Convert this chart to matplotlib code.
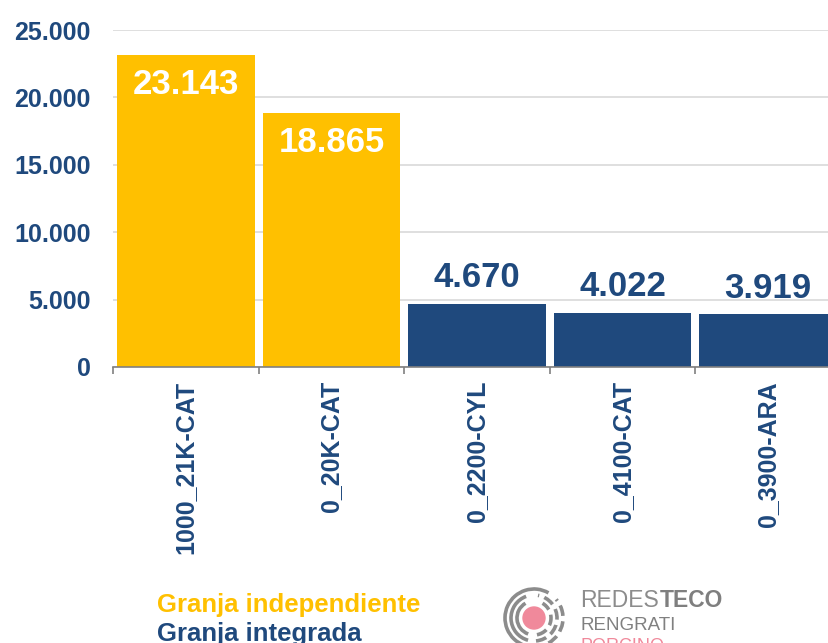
import numpy as np
import matplotlib.pyplot as plt
from matplotlib.patches import Circle, Arc
from matplotlib.ticker import FuncFormatter, FixedLocator

plt.rcParams['font.family'] = ['Liberation Sans', 'DejaVu Sans']

# data
farms = ['1000_21K-CAT', '0_20K-CAT', '0_2200-CYL', '0_4100-CAT', '0_3900-ARA']
values = [23143, 18865, 4670, 4022, 3919]
farm_type = ['ind', 'ind', 'int', 'int', 'int']
legend_labels = ['Granja independiente', 'Granja integrada']

yellow = '#FFC000'
navy = '#1F497D'


def dot_thousands(v, pos=None):
    return f"{v:,.0f}".replace(",", ".")


fig = plt.figure(figsize=(8.29, 6.43), dpi=100)
# axes runs past the right edge, last bar is cropped like in the original
ax = fig.add_axes([113 / 829, 276 / 643, 728 / 829, 337 / 643])

x = np.arange(len(farms))
colors = [yellow if t == 'ind' else navy for t in farm_type]
ax.bar(x, values, width=0.945, color=colors, zorder=2)

ax.set_xlim(-0.5, len(farms) - 0.5)
ax.set_ylim(0, 25000)
ax.set_yticks(np.arange(0, 25001, 5000))
ax.yaxis.set_major_formatter(FuncFormatter(dot_thousands))
ax.grid(axis='y', color='#D9D9D9', linewidth=1.2, zorder=0)

for s in ['top', 'right', 'left']:
    ax.spines[s].set_visible(False)
ax.spines['bottom'].set_color('#808080')
ax.spines['bottom'].set_linewidth(1.2)
ax.spines['bottom'].set_zorder(3)

ax.tick_params(axis='y', length=0, pad=16, labelsize=18, labelcolor=navy)
for lab in ax.get_yticklabels():
    lab.set_fontweight('bold')

ax.set_xticks(x)
ax.set_xticklabels(farms, rotation=90, fontsize=18, fontweight='bold', color=navy, va='top')
ax.tick_params(axis='x', which='major', length=0, pad=10)
ax.xaxis.set_minor_locator(FixedLocator(np.arange(-0.5, len(farms), 1.0)))
ax.tick_params(axis='x', which='minor', length=5, width=1.2, color='#808080', direction='out')

# value labels: white inside the tall bars, navy above the short ones
for xi, v, t in zip(x, values, farm_type):
    if t == 'ind':
        ax.annotate(dot_thousands(v), (xi, v), xytext=(0, -28), textcoords='offset points',
                    ha='center', va='baseline', fontsize=25, fontweight='bold', color='white')
    else:
        ax.annotate(dot_thousands(v), (xi, v), xytext=(0, 12), textcoords='offset points',
                    ha='center', va='baseline', fontsize=25, fontweight='bold', color=navy)

# legend as coloured text
fig.text(157 / 829, 1 - 612 / 643, legend_labels[0], fontsize=18.5, fontweight='bold',
         color=yellow, ha='left', va='baseline')
fig.text(157 / 829, 1 - 641 / 643, legend_labels[1], fontsize=18.5, fontweight='bold',
         color=navy, ha='left', va='baseline')

# logo (axes units are pixels, icon centre at 534, 618)
logo = fig.add_axes([494 / 829, 0, 80 / 829, 70 / 643])
logo.set_xlim(-40, 40)
logo.set_ylim(-25, 45)
logo.axis('off')
logo.add_patch(Circle((0, 0), 11, color='#F0899B'))
gray = '#8C8C8C'
for r, solid, dashed in [(17, (120, 250), (-80, 60)),
                         (23, (110, 255), (-85, 80)),
                         (29, (60, 250), (-60, 40))]:
    logo.add_patch(Arc((0, 0), 2 * r, 2 * r, theta1=solid[0], theta2=solid[1], color=gray, lw=2.6))
    logo.add_patch(Arc((0, 0), 2 * r, 2 * r, theta1=dashed[0], theta2=dashed[1], color=gray,
                       lw=2.6, ls=(0, (3, 1.5))))

t1 = fig.text(580 / 829, 1 - 607 / 643, 'REDES', fontsize=16.5, color='#8C8C8C',
              ha='left', va='baseline', fontweight='light')
fig.canvas.draw()
bb = t1.get_window_extent()
fig.text((bb.x1 + 1) / 829, 1 - 607 / 643, 'TECO', fontsize=16.5, color='#7F7F7F',
         ha='left', va='baseline', fontweight='bold')
fig.text(580 / 829, 1 - 630 / 643, 'RENGRATI', fontsize=13.5, color='#808080',
         ha='left', va='baseline')
fig.text(580 / 829, 1 - 651 / 643, 'PORCINO', fontsize=13, color='#F0899B',
         ha='left', va='baseline')

fig.savefig('out.png', dpi=100)
